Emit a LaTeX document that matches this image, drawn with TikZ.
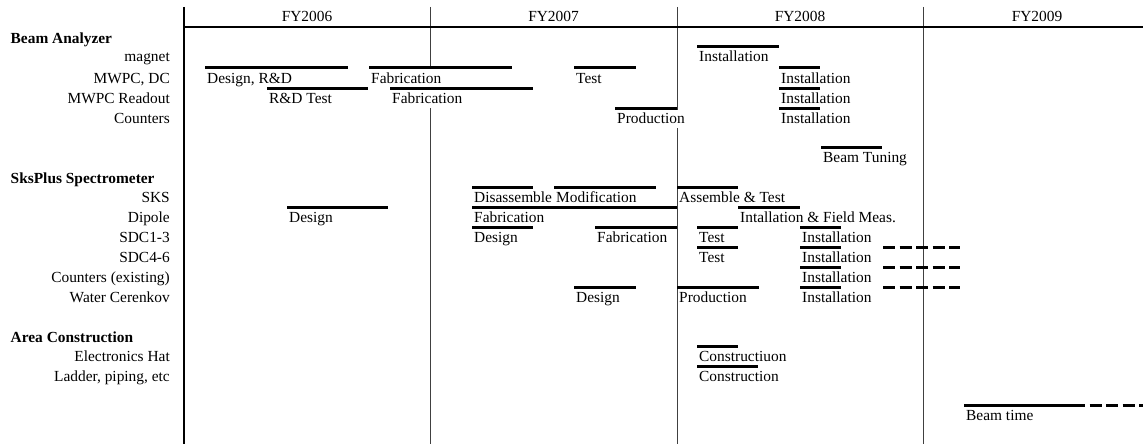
\documentclass[tikz,border=0pt]{standalone}
\usepackage{fontspec}
\setmainfont{Liberation Serif}
\newcommand\gfont{\fontsize{15.4pt}{18pt}\selectfont}
\newcommand\gtask[6][]{%
  \coordinate (#2s) at (#3,#5);
  \coordinate (#2e) at (#4,#5);
  \node[lbl,#1] (#2) at (#3+2,#5+15) {#6};
  \draw[bar] (#2s) -- (#2e);
}
\newcommand\gdash[4]{%
  \coordinate (#1s) at (#2,#4);
  \coordinate (#1e) at (#3,#4);
  \draw[dbar] (#1s) -- (#1e);
}
\tikzset{
  bar/.style={line width=3pt},
  dbar/.style={line width=3pt, dash pattern=on 12pt off 4.5pt},
  lbl/.style={anchor=base west, font=\gfont, inner xsep=0pt, inner ysep=0pt},
  cover/.style={fill=white, text height=13.5pt, text depth=5pt},
  rowlbl/.style={anchor=base east, font=\gfont, inner sep=0pt},
  head/.style={anchor=base west, font=\gfont\bfseries, inner sep=0pt},
  yearlbl/.style={anchor=base, font=\gfont, inner sep=0pt},
  yearline/.style={line width=1pt, black!75},
  axis/.style={line width=2.6pt}
}
\begin{document}
\begin{tikzpicture}[x=1pt,y=-1pt]
\useasboundingbox (0,0) rectangle (1143,444);
% axes
\coordinate (axT) at (184,7);
\coordinate (axB) at (184,444);
\coordinate (hdL) at (184,27);
\coordinate (hdR) at (1143,27);
\coordinate (y7T) at (430,7);   \coordinate (y7B) at (430,444);
\coordinate (y8T) at (677,7);   \coordinate (y8B) at (677,444);
\coordinate (y9T) at (923,7);   \coordinate (y9B) at (923,444);
\draw[yearline] (y7T) -- (y7B);
\draw[yearline] (y8T) -- (y8B);
\draw[yearline] (y9T) -- (y9B);
\draw[axis] (axT) -- (axB);
\draw[axis] (hdL) -- (hdR);
\node[yearlbl] (fy6) at (307,22) {FY2006};
\node[yearlbl] (fy7) at (553.5,22) {FY2007};
\node[yearlbl] (fy8) at (800,22) {FY2008};
\node[yearlbl] (fy9) at (1037,22) {FY2009};
% left labels
\node[head] (hBA) at (10.5,43.5) {Beam Analyzer};
\node[rowlbl] (rMag) at (170,62) {magnet\ };
\node[rowlbl] (rMW) at (170,83) {MWPC, DC};
\node[rowlbl] (rRO) at (170,103) {MWPC Readout};
\node[rowlbl] (rCo) at (170,123) {Counters};
\node[head] (hSP) at (10.5,183.5) {SksPlus Spectrometer};
\node[rowlbl] (rSKS) at (170,202) {SKS\ };
\node[rowlbl] (rDip) at (170,222) {Dipole};
\node[rowlbl] (rS13) at (170,242) {SDC1-3};
\node[rowlbl] (rS46) at (170,262) {SDC4-6};
\node[rowlbl] (rCE) at (170,282) {Counters (existing)};
\node[rowlbl] (rWC) at (170,302) {Water Cerenkov};
\node[head] (hAC) at (10.5,342.5) {Area Construction};
\node[rowlbl] (rEH) at (170,361) {Electronics Hat};
\node[rowlbl] (rLP) at (170,381) {Ladder, piping, etc};
% Beam Analyzer
\gtask{magI}{697}{779}{47}{Installation}
\gtask{mwD}{205}{348}{68}{Design, R\&D}
\gtask[cover]{mwF}{369}{512}{68}{Fabrication}
\gtask{mwT}{574}{636}{68}{Test}
\gtask{mwI}{779}{820}{68}{Installation}
\gtask{roR}{267}{368}{88}{R\&D Test}
\gtask[cover]{roF}{390}{533}{88}{Fabrication}
\gtask{roI}{779}{820}{88}{Installation}
\gtask[cover]{coP}{615}{677}{108}{Production}
\gtask{coI}{779}{820}{108}{Installation}
\gtask{bTu}{821}{882}{147}{Beam Tuning}
% SksPlus
\gtask{skD}{472}{533}{187}{Disassemble}
\gtask{skM}{554}{656}{187}{Modification}
\gtask{skA}{677}{738}{187}{Assemble \& Test}
\gtask{diD}{287}{388}{207}{Design}
\gtask{diF}{472}{677}{207}{Fabrication}
\gtask{diI}{738}{800}{207}{Intallation \& Field Meas.}
\gtask{saD}{472}{533}{227}{Design}
\gtask{saF}{595}{677}{227}{Fabrication}
\gtask{saT}{697}{738}{227}{Test}
\gtask{saI}{800}{841}{227}{Installation}
\gtask{sbT}{697}{738}{247}{Test}
\gtask{sbI}{800}{841}{247}{Installation}
\gdash{sbX}{883}{960}{247}
\gtask{ceI}{800}{841}{267}{Installation}
\gdash{ceX}{883}{960}{267}
\gtask{wcD}{574}{636}{287}{Design}
\gtask{wcP}{677}{759}{287}{Production}
\gtask{wcI}{800}{841}{287}{Installation}
\gdash{wcX}{883}{960}{287}
% Area construction
\gtask{ehC}{697}{738}{346}{Constructiuon}
\gtask{lpC}{697}{758}{366}{Construction}
\gtask{btS}{964}{1073}{405}{Beam time}
\gdash{btX}{1073}{1143}{405}
\end{tikzpicture}
\end{document}
